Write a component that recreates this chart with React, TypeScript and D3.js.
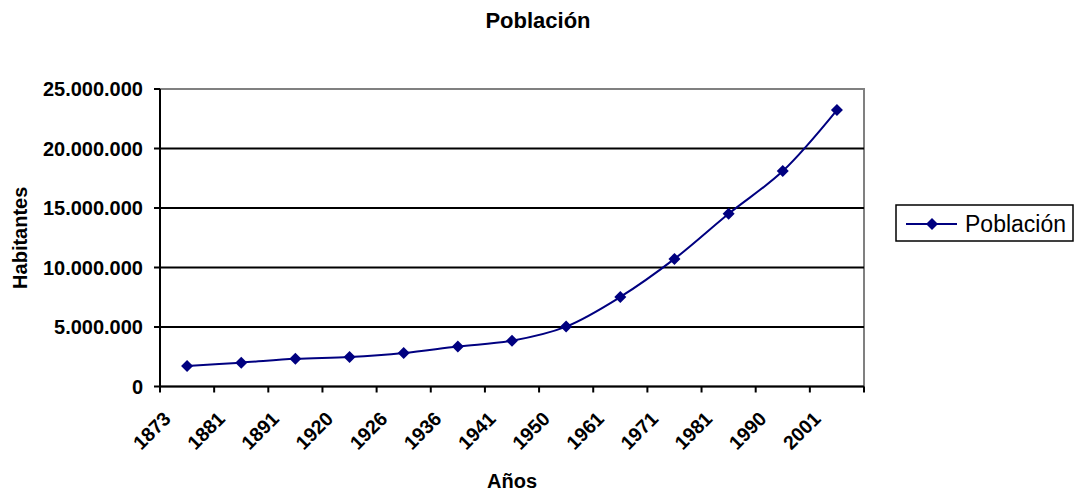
import React from "react";
import * as d3 from "d3";

const years = ["1873", "1881", "1891", "1920", "1926", "1936", "1941", "1950", "1961", "1971", "1981", "1990", "2001"];
const population = [1732411, 2005139, 2323527, 2479525, 2814131, 3364347, 3850771, 5034838, 7523999, 10721522, 14516735, 18105265, 23232553];
const yTicks = [0, 5000000, 10000000, 15000000, 20000000, 25000000];

const W = 1076;
const H = 493;
const margin = { left: 160, right: 212, top: 89, bottom: 106.5 };
const NAVY = "#000080";
const FONT = "'Liberation Sans', Arial, sans-serif";

const fmt = (v: number) => d3.format(",")(v).replace(/,/g, ".");

export default function App() {
  const x = d3.scaleBand<string>().domain(years).range([margin.left, W - margin.right]);
  const y = d3.scaleLinear().domain([0, 25000000]).range([H - margin.bottom, margin.top]);
  const cx = (d: string) => (x(d) as number) + x.bandwidth() / 2;
  const line = d3
    .line<number>()
    .x((_, i) => cx(years[i]))
    .y((d) => y(d))
    .curve(d3.curveCatmullRom.alpha(0.5));
  const x0 = margin.left;
  const x1 = W - margin.right;
  const y0 = y(0);
  const yTop = y(25000000);
  const tickXs = years.map((d) => x(d) as number).concat([x1]);
  const r = 6;
  const sq = (px: number, py: number) => `M${px},${py - r}L${px + r},${py}L${px},${py + r}L${px - r},${py}Z`;

  return (
    <svg
      width={W}
      height={H}
      style={{ position: "absolute", left: 0, top: 0, background: "#fff" }}
      fontFamily={FONT}
    >
      <rect x={0} y={0} width={W} height={H} fill="#fff" />
      <text x={538} y={28} textAnchor="middle" fontWeight="bold" fontSize={22}>
        Población
      </text>
      {/* plot border */}
      <rect x={x0} y={yTop} width={x1 - x0} height={y0 - yTop} fill="none" stroke="#808080" strokeWidth={2} />
      {/* grid lines */}
      {yTicks.slice(1, -1).map((t) => (
        <line key={t} x1={x0} x2={x1} y1={y(t)} y2={y(t)} stroke="#000" strokeWidth={2} />
      ))}
      {/* y axis */}
      <line x1={x0} x2={x0} y1={yTop} y2={y0} stroke="#000" strokeWidth={2} />
      {yTicks.map((t) => (
        <g key={t}>
          <line x1={x0 - 6} x2={x0} y1={y(t)} y2={y(t)} stroke="#000" strokeWidth={2} />
          <text x={143} y={y(t)} dy="0.36em" textAnchor="end" fontWeight="bold" fontSize={20}>
            {fmt(t)}
          </text>
        </g>
      ))}
      {/* x axis */}
      <line x1={x0} x2={x1} y1={y0} y2={y0} stroke="#000" strokeWidth={2} />
      {tickXs.map((tx, i) => (
        <line key={i} x1={tx} x2={tx} y1={y0} y2={y0 + 6} stroke="#000" strokeWidth={2} />
      ))}
      {years.map((d) => {
        const px = (x(d) as number) + 12;
        const py = 420;
        return (
          <text
            key={d}
            x={px}
            y={py}
            textAnchor="end"
            fontWeight="bold"
            fontSize={19.5}
            transform={`rotate(-45 ${px} ${py})`}
          >
            {d}
          </text>
        );
      })}
      <text x={(x0 + x1) / 2} y={488} textAnchor="middle" fontWeight="bold" fontSize={20}>
        Años
      </text>
      <text
        x={27}
        y={(yTop + y0) / 2}
        textAnchor="middle"
        fontWeight="bold"
        fontSize={20}
        transform={`rotate(-90 27 ${(yTop + y0) / 2})`}
      >
        Habitantes
      </text>
      {/* series */}
      <path d={line(population) as string} fill="none" stroke={NAVY} strokeWidth={2} />
      {population.map((v, i) => (
        <path key={i} d={sq(cx(years[i]), y(v))} fill={NAVY} />
      ))}
      {/* legend */}
      <rect x={896} y={205} width={177} height={36} fill="#fff" stroke="#000" strokeWidth={1.5} />
      <line x1={906} x2={957} y1={224} y2={224} stroke={NAVY} strokeWidth={2} />
      <path d={sq(932, 224)} fill={NAVY} />
      <text x={965} y={224} dy="0.36em" fontSize={23}>
        Población
      </text>
    </svg>
  );
}
